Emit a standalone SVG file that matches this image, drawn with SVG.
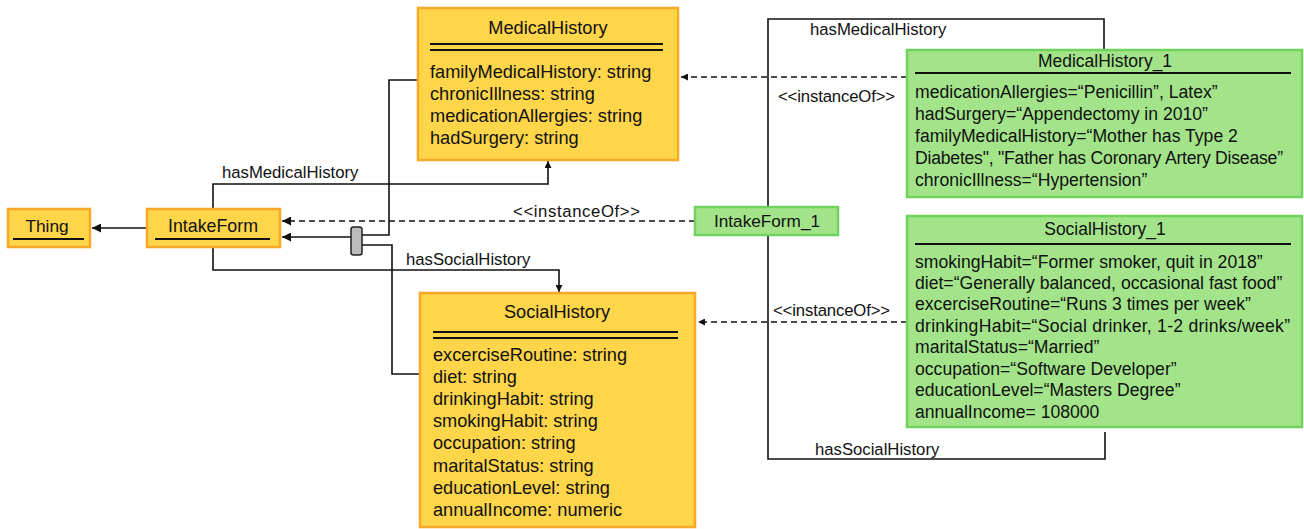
<svg xmlns="http://www.w3.org/2000/svg" width="1304" height="529" viewBox="0 0 1304 529">
<defs>
<style>
text{font-family:"Liberation Sans",Arial,sans-serif;fill:#111;}
.cls{fill:#FFD54A;stroke:#F7A825;stroke-width:2.5;}
.inst{fill:#A3E48A;stroke:#6DD35A;stroke-width:2.5;}
.ln{fill:none;stroke:#111;stroke-width:1.6;}
.dash{fill:none;stroke:#111;stroke-width:1.6;stroke-dasharray:6,4;}
.t18{font-size:18.2px;}
.ti{font-size:17.6px;}
.tn{font-size:17.5px;}
.lbl{font-size:16.7px;}
.c{text-anchor:middle;}
</style>
<marker id="ah" viewBox="0 0 10 10" refX="10" refY="5" markerWidth="7" markerHeight="7" markerUnits="userSpaceOnUse" orient="auto"><path d="M0,0 L10,5 L0,10 z" fill="#111"/></marker>
<marker id="ahL" viewBox="0 0 10 10" refX="10" refY="5" markerWidth="9" markerHeight="9" markerUnits="userSpaceOnUse" orient="auto"><path d="M0,0 L10,5 L0,10 z" fill="#111"/></marker>
</defs>

<g id="connectors">
<path class="ln" d="M147,228 L92,228" marker-end="url(#ahL)"/>
<path class="ln" d="M213,209 L213,184 L548,184 L548,161" marker-end="url(#ah)"/>
<text class="lbl" x="222" y="178">hasMedicalHistory</text>
<path class="ln" d="M213,247 L213,270 L559,270 L559,292" marker-end="url(#ah)"/>
<text class="lbl" x="406" y="265">hasSocialHistory</text>
<path class="dash" d="M695,221 L282,221" marker-end="url(#ahL)"/>
<text class="lbl" x="513" y="217" textLength="127">&lt;&lt;instanceOf&gt;&gt;</text>
<path class="ln" d="M351,237 L282,237" marker-end="url(#ahL)"/>
<path class="ln" d="M362,235 L389,235 L389,80 L418,80"/>
<path class="ln" d="M362,245 L392,245 L392,374 L420,374"/>
<path class="dash" d="M907,77 L681,77" marker-end="url(#ah)"/>
<text class="lbl" x="778" y="102" textLength="117">&lt;&lt;instanceOf&gt;&gt;</text>
<path class="dash" d="M907,322 L698,322" marker-end="url(#ah)"/>
<text class="lbl" x="773" y="316" textLength="117">&lt;&lt;instanceOf&gt;&gt;</text>
<path class="ln" d="M768,207 L768,19 L1104,19 L1104,50"/>
<text class="lbl" x="810" y="35">hasMedicalHistory</text>
<path class="ln" d="M768,235 L768,459 L1105,459 L1105,432"/>
<text class="lbl" x="815" y="455">hasSocialHistory</text>
</g>

<g id="grey-connector-node">
<rect x="351" y="227" width="11" height="28" rx="2.5" fill="#BDBDBD" stroke="#222" stroke-width="1.5"/>
</g>

<g id="Thing">
<rect class="cls" x="8" y="209" width="82" height="38"/>
<text class="c" style="font-size:17.3px" x="47" y="232">Thing</text>
<line x1="13" y1="239" x2="84" y2="239" stroke="#111" stroke-width="2"/>
</g>

<g id="IntakeForm">
<rect class="cls" x="147" y="209" width="133" height="38"/>
<text class="c" style="font-size:17.8px" x="213" y="232">IntakeForm</text>
<line x1="155" y1="239" x2="270" y2="239" stroke="#111" stroke-width="2"/>
</g>

<g id="MedicalHistory">
<rect class="cls" x="418" y="8" width="260" height="152"/>
<text class="t18 c" x="548" y="34">MedicalHistory</text>
<line x1="430" y1="44" x2="663" y2="44" stroke="#111" stroke-width="2"/>
<line x1="430" y1="50" x2="663" y2="50" stroke="#111" stroke-width="2"/>
<text class="t18" x="430" y="78">familyMedicalHistory: string</text>
<text class="t18" x="430" y="100">chronicIllness: string</text>
<text class="t18" x="430" y="122">medicationAllergies: string</text>
<text class="t18" x="430" y="144">hadSurgery: string</text>
</g>

<g id="SocialHistory">
<rect class="cls" x="420" y="293" width="275" height="234"/>
<text class="t18 c" x="557" y="318">SocialHistory</text>
<line x1="433" y1="332" x2="678" y2="332" stroke="#111" stroke-width="2"/>
<line x1="433" y1="338" x2="678" y2="338" stroke="#111" stroke-width="2"/>
<text class="t18" x="433" y="361">excerciseRoutine: string</text>
<text class="t18" x="433" y="383">diet: string</text>
<text class="t18" x="433" y="405">drinkingHabit: string</text>
<text class="t18" x="433" y="427">smokingHabit: string</text>
<text class="t18" x="433" y="449">occupation: string</text>
<text class="t18" x="433" y="472">maritalStatus: string</text>
<text class="t18" x="433" y="494">educationLevel: string</text>
<text class="t18" x="433" y="516">annualIncome: numeric</text>
</g>

<g id="IntakeForm_1">
<rect class="inst" x="695" y="207" width="143" height="28"/>
<text class="c" style="font-size:17.2px" x="767" y="227">IntakeForm_1</text>
</g>

<g id="MedicalHistory_1">
<rect class="inst" x="907" y="50" width="395" height="147"/>
<text class="tn c" x="1105" y="67">MedicalHistory_1</text>
<line x1="915" y1="73" x2="1291" y2="73" stroke="#111" stroke-width="2"/>
<text class="ti" x="915" y="98">medicationAllergies=“Penicillin”, Latex”</text>
<text class="ti" x="915" y="120">hadSurgery=“Appendectomy in 2010”</text>
<text class="ti" x="915" y="142">familyMedicalHistory=“Mother has Type 2</text>
<text class="ti" x="915" y="164" textLength="368">Diabetes", "Father has Coronary Artery Disease”</text>
<text class="ti" x="915" y="186">chronicIllness=“Hypertension”</text>
</g>

<g id="SocialHistory_1">
<rect class="inst" x="907" y="216" width="395" height="211"/>
<text class="tn c" x="1105" y="235">SocialHistory_1</text>
<line x1="915" y1="244" x2="1291" y2="244" stroke="#111" stroke-width="2"/>
<text class="ti" x="915" y="268">smokingHabit=“Former smoker, quit in 2018”</text>
<text class="ti" x="915" y="289">diet=“Generally balanced, occasional fast food”</text>
<text class="ti" x="915" y="310">excerciseRoutine=“Runs 3 times per week”</text>
<text class="ti" x="915" y="332" textLength="375">drinkingHabit=“Social drinker, 1-2 drinks/week”</text>
<text class="ti" x="915" y="353">maritalStatus=“Married”</text>
<text class="ti" x="915" y="375">occupation=“Software Developer”</text>
<text class="ti" x="915" y="396">educationLevel=“Masters Degree”</text>
<text class="ti" x="915" y="418">annualIncome= 108000</text>
</g>
</svg>
